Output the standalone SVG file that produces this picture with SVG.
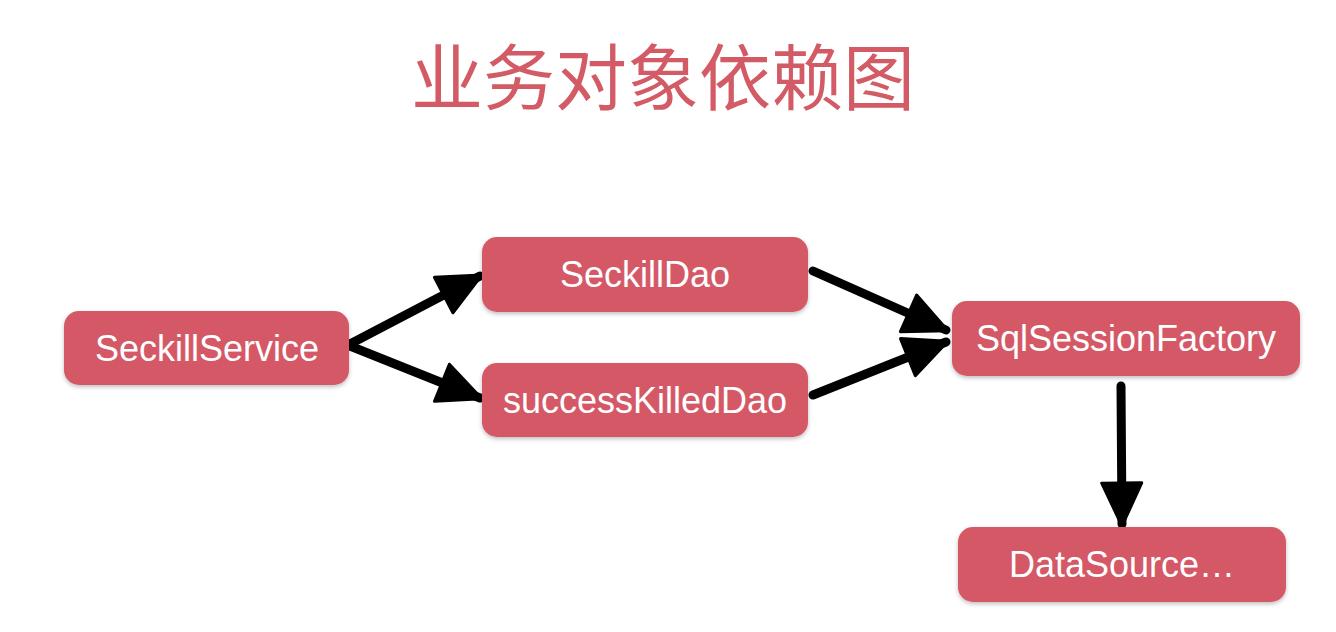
<svg xmlns="http://www.w3.org/2000/svg" width="1336" height="632" viewBox="0 0 1336 632">
<defs>
<style>
.node rect{fill:#d45866;}
.node text{fill:#ffffff;font-family:"Liberation Sans",Arial,sans-serif;font-size:36px;text-anchor:middle;dominant-baseline:central;}
.title{fill:#d35b66;font-family:"Noto Sans CJK SC",sans-serif;font-size:72px;text-anchor:middle;}
.edge{stroke:#000;stroke-width:9;stroke-linecap:round;fill:none;marker-end:url(#ah);}
</style>
<marker id="ah" markerUnits="userSpaceOnUse" markerWidth="48" markerHeight="46" viewBox="0 0 48 46" refX="44" refY="23" orient="auto">
<path d="M3,3 L46,23 L3,43 Z" fill="#000" stroke="#000" stroke-width="3" stroke-linejoin="round"/>
</marker>
<filter id="sh" x="-10%" y="-20%" width="120%" height="150%">
<feDropShadow dx="0" dy="2" stdDeviation="2" flood-color="#000" flood-opacity="0.25"/>
</filter>
</defs>
<rect width="1336" height="632" fill="#ffffff"/>
<text class="title" x="663" y="104">业务对象依赖图</text>
<g id="connectors">
<line class="edge" x1="350" y1="344" x2="480" y2="276"/>
<line class="edge" x1="350" y1="346" x2="480" y2="398"/>
<line class="edge" x1="813" y1="271" x2="946" y2="330"/>
<line class="edge" x1="813" y1="395" x2="946" y2="342"/>
<line class="edge" x1="1121" y1="386" x2="1122" y2="524"/>
</g>
<g id="SeckillService" class="node"><rect x="64" y="311" width="285" height="74" rx="15" filter="url(#sh)"/><text x="207" y="348">SeckillService</text></g>
<g id="SeckillDao" class="node"><rect x="482" y="237" width="326" height="75" rx="15" filter="url(#sh)"/><text x="645" y="274.5">SeckillDao</text></g>
<g id="successKilledDao" class="node"><rect x="482" y="363" width="326" height="74" rx="15" filter="url(#sh)"/><text x="645" y="400">successKilledDao</text></g>
<g id="SqlSessionFactory" class="node"><rect x="952" y="301" width="348" height="75" rx="15" filter="url(#sh)"/><text x="1126" y="338.5">SqlSessionFactory</text></g>
<g id="DataSource" class="node"><rect x="958" y="527" width="328" height="75" rx="15" filter="url(#sh)"/><text x="1122" y="564.5">DataSource…</text></g>
</svg>
